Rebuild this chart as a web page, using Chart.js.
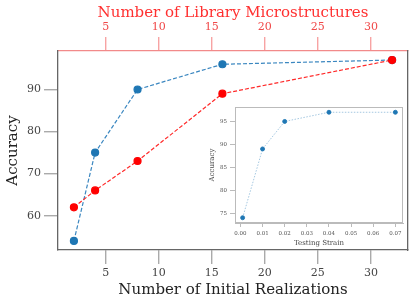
<!DOCTYPE html>
<html>
<head>
<meta charset="utf-8">
<script src="https://cdn.jsdelivr.net/npm/chart.js@4.4.0/dist/chart.umd.min.js"></script>
<style>
    html, body { margin: 0; padding: 0; background: #fff; }
    #wrap { position: relative; width: 415px; height: 305px; }
    #mainChart { position: absolute; left: 0; top: 0; }
    #insetChart { position: absolute; left: 200px; top: 100px; }
</style>
</head>
<body>
<div id="wrap">
    <canvas id="mainChart" width="415" height="305"></canvas>
    <canvas id="insetChart" width="210" height="150"></canvas>
</div>
<script>
// Main plot data
const initialRealizations = [2, 4, 8, 16, 32];
const accuracyByRealizations = [54, 75, 90, 96, 97];
const libraryMicrostructures = [2, 4, 8, 16, 32];
const accuracyByLibrary = [62, 66, 73, 89, 97];
const xTickValues = [5, 10, 15, 20, 25, 30];
const yTickValues = [60, 70, 80, 90];

// Inset data
const testingStrain = [0.001, 0.01, 0.02, 0.04, 0.07];
const accuracyByStrain = [74, 89, 95, 97, 97];
const strainTickValues = [0, 0.01, 0.02, 0.03, 0.04, 0.05, 0.06, 0.07];
const insetYTickValues = [75, 80, 85, 90, 95];

const SERIF = "'DejaVu Serif', serif";

function toPoints(xs, ys) {
    return xs.map((x, i) => ({ x: x, y: ys[i] }));
}

function fixedTicks(values) {
    return function (scale) {
        scale.ticks = values.map(v => ({ value: v }));
    };
}

/**
 * Main chart
 */
function createMainChart() {
    const ctx = document.getElementById('mainChart');

    new Chart(ctx, {
        type: 'scatter',
        data: {
            datasets: [{
                data: toPoints(initialRealizations, accuracyByRealizations),
                xAxisID: 'x',
                order: 1,
                showLine: true,
                borderColor: '#3b87c0',
                borderWidth: 1.2,
                borderDash: [4, 2],
                backgroundColor: '#1f77b4',
                pointBackgroundColor: '#1f77b4',
                pointBorderColor: '#1f77b4',
                pointRadius: 3.5
            }, {
                data: toPoints(libraryMicrostructures, accuracyByLibrary),
                xAxisID: 'x2',
                order: 0,
                showLine: true,
                borderColor: '#ff2a2a',
                borderWidth: 1.2,
                borderDash: [4, 2],
                backgroundColor: '#ff0000',
                pointBackgroundColor: '#ff0000',
                pointBorderColor: '#ff0000',
                pointRadius: 3.5
            }]
        },
        options: {
            responsive: false,
            animation: false,
            layout: { padding: 0 },
            plugins: {
                legend: { display: false },
                tooltip: { enabled: false }
            },
            scales: {
                x: {
                    type: 'linear',
                    position: 'bottom',
                    min: 0.5,
                    max: 33.5,
                    afterBuildTicks: fixedTicks(xTickValues),
                    afterFit: s => { s.height = 55; },
                    grid: { drawOnChartArea: false, tickLength: 14, tickColor: '#aaa', lineWidth: 1.4 },
                    border: { color: '#666', width: 1.3 },
                    ticks: { color: '#444', padding: 3, font: { family: SERIF, size: 11 } },
                    title: {
                        display: true,
                        text: 'Number of Initial Realizations',
                        color: '#222',
                        font: { family: SERIF, size: 15 },
                        padding: { top: 0, bottom: 6 }
                    }
                },
                x2: {
                    type: 'linear',
                    position: 'top',
                    min: 0.5,
                    max: 33.5,
                    afterBuildTicks: fixedTicks(xTickValues),
                    afterFit: s => { s.height = 51; },
                    grid: { drawOnChartArea: false, tickLength: 14, tickColor: '#f7a3a3', lineWidth: 1.4 },
                    border: { color: '#f28a8a', width: 1.3 },
                    ticks: { color: '#f04848', padding: 3, font: { family: SERIF, size: 11 } },
                    title: {
                        display: true,
                        text: 'Number of Library Microstructures',
                        color: '#ff3030',
                        font: { family: SERIF, size: 15 },
                        padding: { top: 4, bottom: 0 }
                    }
                },
                y: {
                    type: 'linear',
                    position: 'left',
                    min: 51.85,
                    max: 99.15,
                    afterBuildTicks: fixedTicks(yTickValues),
                    afterFit: s => { s.width = 58; },
                    grid: { drawOnChartArea: false, tickLength: 14, tickColor: '#aaa', lineWidth: 1.4 },
                    border: { color: '#666', width: 1.3 },
                    ticks: { color: '#444', padding: 3, font: { family: SERIF, size: 11 } },
                    title: {
                        display: true,
                        text: 'Accuracy',
                        color: '#222',
                        font: { family: SERIF, size: 15 },
                        padding: { top: 4, bottom: 0 }
                    }
                },
                yRight: {
                    type: 'linear',
                    position: 'right',
                    afterFit: s => { s.width = 7; },
                    grid: { drawOnChartArea: false, drawTicks: false },
                    border: { color: '#666', width: 1.3 },
                    ticks: { display: false }
                }
            }
        }
    });
}

// Inset background and frame
const insetFrame = {
    id: 'insetFrame',
    beforeDraw(chart) {
        const { ctx, chartArea: a } = chart;
        ctx.save();
        ctx.fillStyle = '#fff';
        ctx.fillRect(a.left, a.top, a.right - a.left, a.bottom - a.top);
        ctx.restore();
    },
    afterDraw(chart) {
        const { ctx, chartArea: a } = chart;
        ctx.save();
        ctx.strokeStyle = '#bbb';
        ctx.lineWidth = 1;
        ctx.strokeRect(a.left + 0.5, a.top + 0.5, a.right - a.left - 1, a.bottom - a.top - 1);
        ctx.restore();
    }
};

/**
 * Inset chart
 */
function createInsetChart() {
    const ctx = document.getElementById('insetChart');

    new Chart(ctx, {
        type: 'scatter',
        data: {
            datasets: [{
                data: toPoints(testingStrain, accuracyByStrain),
                showLine: true,
                borderColor: 'rgba(31,119,180,0.45)',
                borderWidth: 0.9,
                borderDash: [1.5, 1.5],
                pointBackgroundColor: '#1f77b4',
                pointBorderColor: '#1f77b4',
                pointRadius: 2
            }]
        },
        options: {
            responsive: false,
            animation: false,
            layout: { padding: { top: 7, right: 7, left: 0, bottom: 0 } },
            plugins: {
                legend: { display: false },
                tooltip: { enabled: false }
            },
            scales: {
                x: {
                    type: 'linear',
                    min: -0.00245,
                    max: 0.07345,
                    afterBuildTicks: fixedTicks(strainTickValues),
                    afterFit: s => { s.height = 27; },
                    grid: { drawOnChartArea: false, tickLength: 4, tickColor: '#bbb' },
                    border: { color: '#bbb', width: 1 },
                    ticks: {
                        color: '#555',
                        padding: 3,
                        font: { family: SERIF, size: 5.5 },
                        callback: v => v.toFixed(2)
                    },
                    title: {
                        display: true,
                        text: 'Testing Strain',
                        color: '#444',
                        font: { family: SERIF, size: 7 },
                        padding: { top: 0, bottom: 3 }
                    }
                },
                y: {
                    type: 'linear',
                    min: 72.85,
                    max: 98.15,
                    afterBuildTicks: fixedTicks(insetYTickValues),
                    afterFit: s => { s.width = 35; },
                    grid: { drawOnChartArea: false, tickLength: 5, tickColor: '#bbb' },
                    border: { color: '#bbb', width: 1 },
                    ticks: { color: '#555', padding: 3, font: { family: SERIF, size: 5.5 } },
                    title: {
                        display: true,
                        text: 'Accuracy',
                        color: '#444',
                        font: { family: SERIF, size: 7 },
                        padding: { top: 8, bottom: 0 }
                    }
                }
            }
        },
        plugins: [insetFrame]
    });
}

createMainChart();
createInsetChart();
</script>
</body>
</html>
